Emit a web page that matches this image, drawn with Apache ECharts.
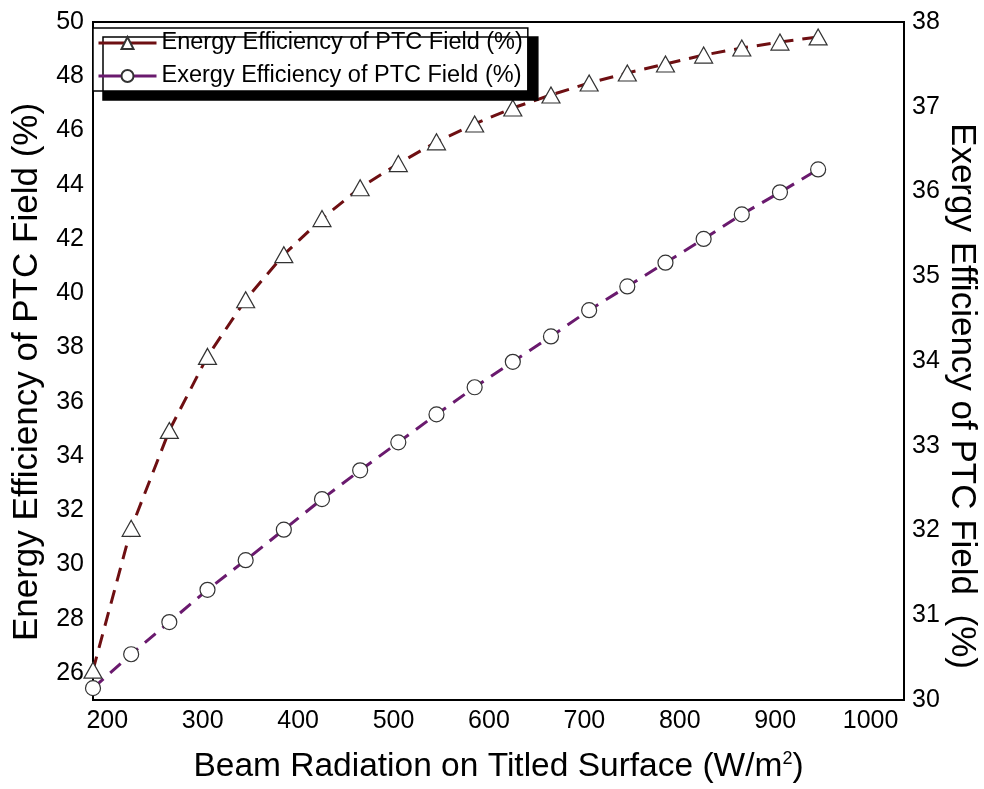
<!DOCTYPE html>
<html>
<head>
<meta charset="utf-8">
<script src="https://cdn.jsdelivr.net/npm/echarts@6/dist/echarts.min.js"></script>
<style>
  html, body { margin: 0; padding: 0; background: #fff; }
  #chart { width: 984px; height: 789px; }
</style>
</head>
<body>
<div id="chart"></div>
<script>
// Beam radiation on the tilted surface (W/m2)
const radiation = [185, 225, 265, 305, 345, 385, 425, 465, 505, 545,
                   585, 625, 665, 705, 745, 785, 825, 865, 905, 945];
// Energy efficiency of the PTC field (%), left axis
const energyEff = [26.1, 31.33, 34.94, 37.67, 39.76, 41.42, 42.75, 43.89, 44.78, 45.58,
                   46.24, 46.83, 47.31, 47.75, 48.12, 48.45, 48.78, 49.04, 49.26, 49.45];
// Exergy efficiency of the PTC field (%), right axis
const exergyEff = [30.14, 30.54, 30.92, 31.30, 31.65, 32.01, 32.37, 32.71, 33.04, 33.37,
                   33.69, 33.99, 34.29, 34.60, 34.88, 35.16, 35.44, 35.73, 35.99, 36.26];

const xTicks = [200, 300, 400, 500, 600, 700, 800, 900, 1000];
const leftTicks = [26, 28, 30, 32, 34, 36, 38, 40, 42, 44, 46, 48, 50];
const rightTicks = [30, 31, 32, 33, 34, 35, 36, 37, 38];

const font = '"Liberation Sans", Arial, sans-serif';

const pairs = (xs, ys) => xs.map((x, i) => [x, ys[i]]);

const chart = echarts.init(document.getElementById('chart'), null, { renderer: 'canvas' });

chart.setOption({
  backgroundColor: '#fff',
  animation: false,
  textStyle: { fontFamily: font },
  grid: {
    left: 93, right: 80, top: 22, bottom: 89,
    outerBoundsMode: 'none',
    containLabel: false,
    show: true, borderColor: '#000', borderWidth: 2, backgroundColor: 'transparent'
  },
  legend: {
    orient: 'vertical',
    left: 93, top: 28,
    padding: [3, 5, 3, 4],
    itemGap: 9,
    itemWidth: 58, itemHeight: 15,
    backgroundColor: '#fff',
    borderColor: '#000', borderWidth: 1.5, borderRadius: 0,
    shadowColor: '#000', shadowBlur: 0, shadowOffsetX: 10, shadowOffsetY: 9,
    textStyle: { fontFamily: font, fontSize: 23.5, color: '#000' },
    lineStyle: { type: 'solid', width: 3 },
    data: ['Energy Efficiency of PTC Field (%)', 'Exergy Efficiency of PTC Field (%)']
  },
  xAxis: {
    type: 'value',
    min: 185, max: 1035,
    name: 'Beam Radiation on Titled Surface (W/m{sup|2})',
    nameLocation: 'middle',
    nameGap: 50,
    nameMoveOverlap: false,
    nameTextStyle: {
      fontFamily: font, fontSize: 33.5, color: '#000',
      rich: { sup: { fontFamily: font, fontSize: 18, verticalAlign: 'top', padding: [0, 0, 15, 0] } }
    },
    axisLine: { show: true, lineStyle: { color: '#000', width: 2 } },
    axisTick: { show: false },
    splitLine: { show: false },
    axisLabel: {
      customValues: xTicks,
      formatter: (v) => String(v),
      margin: 9,
      fontFamily: font, fontSize: 25, color: '#000'
    }
  },
  yAxis: [
    {
      type: 'value',
      position: 'left',
      min: 25, max: 50,
      name: 'Energy Efficiency of PTC Field (%)',
      nameLocation: 'middle',
      nameRotate: 90,
      nameGap: 48,
      nameMoveOverlap: false,
      nameTextStyle: { fontFamily: font, fontSize: 35, color: '#000', padding: [0, 22, 0, 0] },
      axisLine: { show: true, lineStyle: { color: '#000', width: 2 } },
      axisTick: { show: false },
      splitLine: { show: false },
      axisLabel: {
        customValues: leftTicks,
        formatter: (v) => String(v),
        margin: 9,
        fontFamily: font, fontSize: 25, color: '#000'
      }
    },
    {
      type: 'value',
      position: 'right',
      min: 30, max: 38, interval: 1,
      name: 'Exergy Efficiency of PTC Field  (%)',
      nameLocation: 'middle',
      nameRotate: -90,
      nameGap: 40,
      nameMoveOverlap: false,
      nameTextStyle: { fontFamily: font, fontSize: 35, color: '#000', padding: [0, 0, 0, 70] },
      axisLine: { show: true, lineStyle: { color: '#000', width: 2 } },
      axisTick: { show: false },
      splitLine: { show: false },
      axisLabel: {
        customValues: rightTicks,
        formatter: (v) => String(v),
        margin: 8,
        padding: [0, 0, 8, 0],
        fontFamily: font, fontSize: 25, color: '#000'
      }
    }
  ],
  series: [
    {
      name: 'Energy Efficiency of PTC Field (%)',
      type: 'line',
      yAxisIndex: 0,
      data: pairs(radiation, energyEff),
      symbol: 'triangle',
      symbolSize: [18, 16],
      showAllSymbol: true,
      clip: true,
      lineStyle: { color: '#6e0f12', width: 3, type: [14, 9] },
      itemStyle: { color: '#fff', borderColor: '#333', borderWidth: 1.2 },
      z: 3
    },
    {
      name: 'Exergy Efficiency of PTC Field (%)',
      type: 'line',
      yAxisIndex: 1,
      data: pairs(radiation, exergyEff),
      symbol: 'circle',
      symbolSize: 15,
      showAllSymbol: true,
      clip: true,
      lineStyle: { color: '#6a1a6e', width: 3, type: [14, 9] },
      itemStyle: { color: '#fff', borderColor: '#333', borderWidth: 1.2 },
      z: 3
    }
  ]
});
</script>
</body>
</html>
